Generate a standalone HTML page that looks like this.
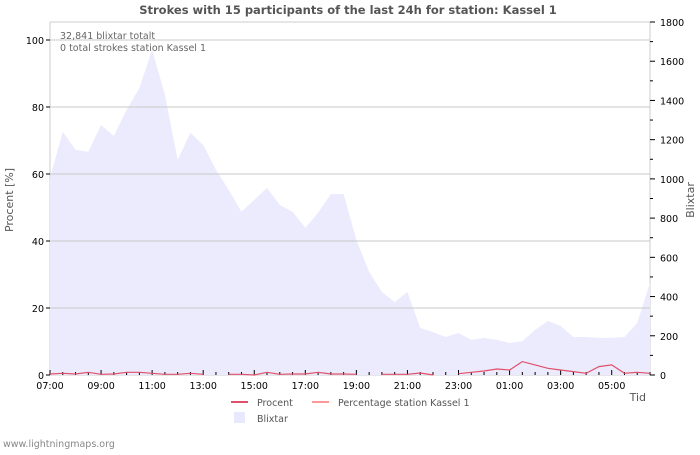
<!DOCTYPE html>
<html><head><meta charset="utf-8"><style>
body{margin:0;background:#fff;font-family:"Liberation Sans","DejaVu Sans",sans-serif}
svg text{font-family:"DejaVu Sans","Liberation Sans",sans-serif}
</style></head><body>
<svg id="c" width="700" height="450" xmlns="http://www.w3.org/2000/svg">
<rect width="700" height="450" fill="#fff"/>
<text x="348" y="14" text-anchor="middle" font-size="11.5" font-weight="bold" fill="#555">Strokes with 15 participants of the last 24h for station: Kassel 1</text>
<g id="plot"></g>
<text x="60" y="39" font-size="9.5" fill="#666">32,841 blixtar totalt</text>
<text x="60" y="51" font-size="9.5" fill="#666">0 total strokes station Kassel 1</text>
<text transform="translate(13,200) rotate(-90)" text-anchor="middle" font-size="11" fill="#555">Procent   [%]</text>
<text transform="translate(694,200) rotate(-90)" text-anchor="middle" font-size="11" fill="#555">Blixtar</text>
<text x="646" y="401" text-anchor="end" font-size="11" fill="#555">Tid</text>
<g>
<line x1="231" y1="402" x2="248" y2="402" stroke="#e0506a" stroke-width="2"/>
<text x="257" y="406" font-size="9.5" fill="#555">Procent</text>
<line x1="312" y1="402" x2="329" y2="402" stroke="#ff9999" stroke-width="2"/>
<text x="338" y="406" font-size="9.5" fill="#555">Percentage station Kassel 1</text>
<rect x="234" y="412" width="11" height="11" fill="#e8e8ff"/>
<text x="257" y="422" font-size="9.5" fill="#555">Blixtar</text>
</g>
<text x="3" y="447" font-size="9.5" fill="#888">www.lightningmaps.org</text>
</svg>
<script>
const blixtar=[1005,1240,1148,1138,1275,1219,1352,1464,1658,1429,1097,1235,1173,1046,944,832,893,954,867,832,750,827,923,923,689,526,423,372,423,240,219,194,214,179,189,179,163,173,230,276,250,194,194,189,189,194,265,470];
const procent=[0.3,0.5,0.3,0.8,0.2,0.3,0.8,0.8,0.5,0.2,0.2,0.5,0.2,null,0.2,0.2,0,0.8,0.2,0.3,0.3,0.8,0.3,0.3,0.2,null,0.2,0.2,0.2,0.6,0,null,0.4,0.8,1.2,1.8,1.5,4,3,2,1.5,1,0.5,2.5,3,0.5,0.8,0.5];
const leftTicks=[0,20,40,60,80,100];
const rightTicks=[0,200,400,600,800,1000,1200,1400,1600,1800];
const timeLabels=["07:00","09:00","11:00","13:00","15:00","17:00","19:00","21:00","23:00","01:00","03:00","05:00"];
const X0=50,X1=650,Y0=375,YT=22;
const step=(X1-X0)/(blixtar.length-1);
const xi=i=>X0+i*step;
const yL=v=>Y0-v*3.35;
const yR=v=>Y0-v*(Y0-YT)/1800;
const NS="http://www.w3.org/2000/svg";
const g=document.getElementById('plot');
function mk(t,a){const e=document.createElementNS(NS,t);for(const k in a)e.setAttribute(k,a[k]);g.appendChild(e);return e;}
let fr=mk('rect',{x:X0,y:YT,width:X1-X0,height:Y0-YT,fill:'none',stroke:'#ccc'});


let d='M'+X0+','+Y0;
blixtar.forEach((v,i)=>{d+=' L'+xi(i).toFixed(1)+','+yR(v).toFixed(1);});
d+=' L'+X1+','+Y0+' Z';
let area=mk('path',{d:d,fill:'#ebebfd'});


leftTicks.forEach(v=>{
 if(v>0){let l=mk('line',{x1:X0,x2:X1,y1:yL(v),y2:yL(v),stroke:'#c8c8c8'});
 
 }
 let tk=mk('line',{x1:X0-4,x2:X0,y1:yL(v),y2:yL(v),stroke:'#000'});
 
 
 let t=mk('text',{x:X0-6,y:yL(v)+4,'text-anchor':'end','font-size':'9.5',fill:'#000'});t.textContent=v;
 
 
});
for(let v=0;v<=1800;v+=100){
 let tk=mk('line',{x1:X1,x2:X1+(v%200?3:5),y1:yR(v),y2:yR(v),stroke:'#000'});
 
 
}
rightTicks.forEach(v=>{
 let t=mk('text',{x:X1+10,y:yR(v)+4,'font-size':'9.5',fill:'#000'});t.textContent=v;
 
 
});
for(let i=0;i<blixtar.length;i++){
 let tk=mk('line',{x1:xi(i),x2:xi(i),y1:Y0,y2:Y0-(i%4?3:5),stroke:'#000'});
 
 
}
timeLabels.forEach((s,k)=>{
 let t=mk('text',{x:xi(k*4),y:Y0+14,'text-anchor':'middle','font-size':'9.5',fill:'#000'});t.textContent=s;
 
 
});
let pd='',pen=false;
procent.forEach((v,i)=>{if(v===null){pen=false;return;}pd+=(pen?' L':' M')+xi(i).toFixed(1)+','+yL(v).toFixed(1);pen=true;});
let pl=mk('path',{d:pd,fill:'none',stroke:'#e0506a','stroke-width':1.2});


</script>
</body></html>
